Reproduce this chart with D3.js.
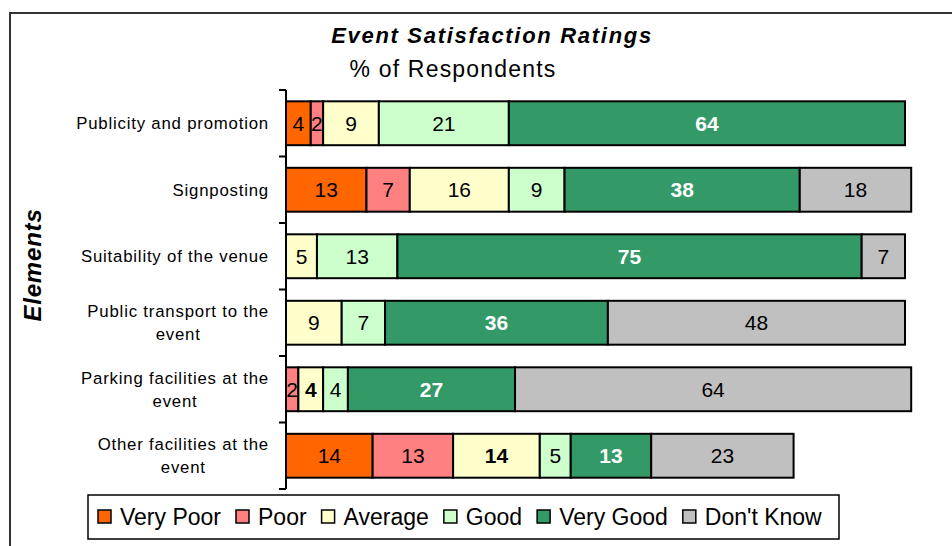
<!DOCTYPE html>
<html>
<head>
<meta charset="utf-8">
<script src="https://cdn.jsdelivr.net/npm/d3@7"></script>
<style>
  body { margin: 0; background: #fff; }
  text { font-family: "Liberation Sans", Arial, sans-serif; }
</style>
</head>
<body>
<div id="chart-area"></div>
<script>

const categories = [
  'Publicity and promotion',
  'Signposting',
  'Suitability of the venue',
  'Public transport to the\nevent',
  'Parking facilities at the\nevent',
  'Other facilities at the\nevent',
];
const seriesNames = ['Very Poor', 'Poor', 'Average', 'Good', 'Very Good', "Don't Know"];
const veryPoor = [4, 13, 0, 0, 0, 14];
const poor = [2, 7, 0, 0, 2, 13];
const average = [9, 16, 5, 9, 4, 14];
const good = [21, 9, 13, 7, 4, 5];
const veryGood = [64, 38, 75, 36, 27, 13];
const dontKnow = [0, 18, 7, 48, 64, 23];
const colors = ['#ff6600', '#ff8080', '#ffffcc', '#ccffcc', '#339966', '#c0c0c0'];
// labels that Excel shows in bold (row index, series index)
const boldCells = [[4, 2], [5, 2]];

const widthSvg = 952;
const heightSvg = 546;

const values = [veryPoor, poor, average, good, veryGood, dontKnow];
const rows = categories.map((c, i) => {
  const row = { category: c };
  seriesNames.forEach((s, j) => { row[s] = values[j][i]; });
  return row;
});

const svg = d3.select('#chart-area').append('svg')
  .attr('width', widthSvg)
  .attr('height', heightSvg);

// outer frame
svg.append('rect')
  .attr('x', 10).attr('y', 13)
  .attr('width', 1000).attr('height', 600)
  .attr('fill', 'none')
  .attr('stroke', '#333')
  .attr('stroke-width', 2);

svg.append('text')
  .text('Event Satisfaction Ratings')
  .attr('x', 492).attr('y', 43)
  .attr('text-anchor', 'middle')
  .attr('font-size', '22px')
  .attr('font-weight', 'bold')
  .attr('font-style', 'italic')
  .attr('letter-spacing', '1.7px');

svg.append('text')
  .text('% of Respondents')
  .attr('x', 453).attr('y', 77)
  .attr('text-anchor', 'middle')
  .attr('font-size', '23px')
  .attr('letter-spacing', '1.2px');

svg.append('text')
  .text('Elements')
  .attr('transform', 'translate(41, 265)rotate(-90)')
  .attr('text-anchor', 'middle')
  .attr('font-size', '24px')
  .attr('font-weight', 'bold')
  .attr('font-style', 'italic')
  .attr('letter-spacing', '0.8px');

const scaleX = d3.scaleLinear()
  .domain([0, 100])
  .range([286, 905]);

const scaleY = d3.scaleBand()
  .domain(categories)
  .range([90, 489])
  .paddingInner(0.34)
  .paddingOuter(0.17);

const stacked = d3.stack().keys(seriesNames)(rows);

const layers = svg.append('g').selectAll('g')
  .data(stacked)
  .enter().append('g')
    .attr('fill', (d, i) => colors[i]);

layers.selectAll('rect')
  .data(d => d.filter(p => p[1] > p[0]))
  .enter().append('rect')
    .attr('x', d => scaleX(d[0]))
    .attr('y', d => scaleY(d.data.category))
    .attr('width', d => scaleX(d[1]) - scaleX(d[0]))
    .attr('height', scaleY.bandwidth())
    .attr('stroke', '#000')
    .attr('stroke-width', 2);

// value labels
stacked.forEach((layer, j) => {
  layer.forEach((p, i) => {
    const v = p[1] - p[0];
    if (!v) return;
    const isBold = j === 4 || boldCells.some(c => c[0] === i && c[1] === j);
    svg.append('text')
      .text(v)
      .attr('x', (scaleX(p[0]) + scaleX(p[1])) / 2)
      .attr('y', scaleY(categories[i]) + scaleY.bandwidth() / 2)
      .attr('dy', '0.36em')
      .attr('text-anchor', 'middle')
      .attr('font-size', '21px')
      .attr('font-weight', isBold ? 'bold' : 'normal')
      .attr('fill', j === 4 ? '#fff' : '#000');
  });
});

// category axis with ticks between the bands
const step = scaleY.step();
const tickYs = categories.map(c => scaleY(c) - scaleY.paddingInner() * step / 2)
  .concat([scaleY(categories[categories.length - 1]) + scaleY.bandwidth() + scaleY.paddingInner() * step / 2]);

const axis = svg.append('g');
axis.append('line')
  .attr('x1', 286).attr('x2', 286)
  .attr('y1', tickYs[0]).attr('y2', tickYs[tickYs.length - 1])
  .attr('stroke', '#000').attr('stroke-width', 2);
axis.selectAll('.tick')
  .data(tickYs)
  .enter().append('line')
    .attr('x1', 279).attr('x2', 286)
    .attr('y1', d => d).attr('y2', d => d)
    .attr('stroke', '#000').attr('stroke-width', 2);

categories.forEach(c => {
  const lines = c.split('\n');
  const label = svg.append('text')
    .attr('text-anchor', 'middle')
    .attr('font-size', '16.8px')
    .attr('letter-spacing', '0.8px');
  const lineH = 23;
  const cy = scaleY(c) + scaleY.bandwidth() / 2;
  lines.forEach((l, k) => {
    label.append('tspan')
      .text(l)
      .attr('y', cy + (k - (lines.length - 1) / 2) * lineH)
      .attr('dy', '0.36em');
  });
  const w = d3.max(label.selectAll('tspan').nodes(), n => n.getComputedTextLength());
  label.selectAll('tspan').attr('x', 269 - w / 2);
});

// legend
const legend = svg.append('g');
legend.append('rect')
  .attr('x', 88).attr('y', 495)
  .attr('width', 751).attr('height', 44)
  .attr('fill', '#fff')
  .attr('stroke', '#000')
  .attr('stroke-width', 1.5);

let lx = 98;
seriesNames.forEach((s, i) => {
  legend.append('rect')
    .attr('x', lx).attr('y', 510)
    .attr('width', 13).attr('height', 13)
    .attr('fill', colors[i])
    .attr('stroke', '#000')
    .attr('stroke-width', 1.5);
  const t = legend.append('text')
    .text(s)
    .attr('x', lx + 22).attr('y', 525)
    .attr('font-size', '23px');
  lx += 22 + t.node().getComputedTextLength() + 15;
});

</script>
</body>
</html>
